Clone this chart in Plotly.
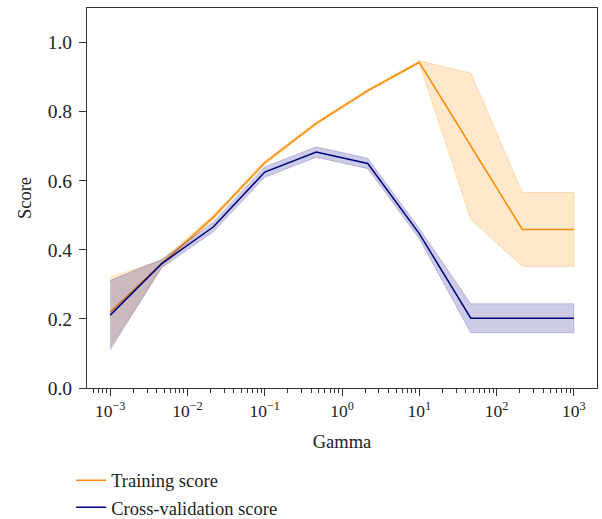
import numpy as np
import plotly.graph_objects as go

gamma = [1e-3, 4.64e-3, 2.154e-2, 1e-1, 4.642e-1, 2.154, 10.0, 46.42, 215.4, 1000.0]
train_mean = [0.22, 0.36, 0.494, 0.652, 0.766, 0.861, 0.943, 0.70, 0.459, 0.459]
train_std = [0.10, 0.010, 0.006, 0.005, 0.004, 0.004, 0.004, 0.212, 0.107, 0.107]
cv_mean = [0.211, 0.36, 0.466, 0.625, 0.683, 0.65, 0.447, 0.202, 0.202, 0.202]
cv_std = [0.10, 0.012, 0.014, 0.015, 0.015, 0.015, 0.015, 0.042, 0.042, 0.042]

tick_vals = [1e-3, 1e-2, 1e-1, 1e0, 1e1, 1e2, 1e3]
tick_text = ["10<sup>−3</sup>", "10<sup>−2</sup>", "10<sup>−1</sup>", "10<sup>0</sup>",
             "10<sup>1</sup>", "10<sup>2</sup>", "10<sup>3</sup>"]
minor_vals = [m * 10.0 ** e for e in range(-4, 4) for m in range(2, 10)]
y_ticks = [0.0, 0.2, 0.4, 0.6, 0.8, 1.0]

orange = "#ff8c00"
navy = "#000080"

def band(mean, std, color_fill, color_line):
    up = [m + s for m, s in zip(mean, std)]
    lo = [m - s for m, s in zip(mean, std)]
    return go.Scatter(x=list(gamma) + list(gamma)[::-1], y=up + lo[::-1],
                      fill="toself", fillcolor=color_fill,
                      line=dict(color=color_line, width=1),
                      mode="lines", showlegend=False, hoverinfo="skip")

fig = go.Figure()
fig.add_trace(band(train_mean, train_std, "rgba(255,140,0,0.2)", "rgba(255,140,0,0.25)"))
fig.add_trace(go.Scatter(x=gamma, y=train_mean, mode="lines", name="Training score",
                         line=dict(color=orange, width=1.5)))
fig.add_trace(band(cv_mean, cv_std, "rgba(0,0,128,0.2)", "rgba(0,0,128,0.2)"))
fig.add_trace(go.Scatter(x=gamma, y=cv_mean, mode="lines", name="Cross-validation score",
                         line=dict(color=navy, width=1.5)))

fam = "Liberation Serif, DejaVu Serif, serif"
font = dict(family=fam, size=18.5, color="#222")

fig.update_layout(
    width=602, height=519,
    margin=dict(l=87, r=5, t=8, b=131, autoexpand=False),
    paper_bgcolor="white", plot_bgcolor="white",
    font=font,
    legend=dict(x=-0.031, y=-0.194, xanchor="left", yanchor="top",
                font=font, tracegroupgap=0, itemwidth=30,
                bgcolor="rgba(0,0,0,0)"),
    xaxis=dict(type="log", range=[-3.3, 3.3], tickvals=tick_vals, ticktext=tick_text,
               tickfont=dict(family=fam, size=17.5, color="#222"),
               showline=True, linecolor="#333", linewidth=1.2, mirror=True,
               ticks="outside", ticklen=7, tickcolor="#333", showgrid=False, zeroline=False,
               automargin=False,
               minor=dict(tickmode="array", tickvals=minor_vals, ticks="outside", ticklen=4,
                          tickcolor="#333", showgrid=False),
               title=dict(text="Gamma", font=font, standoff=14)),
    yaxis=dict(range=[0, 1.1], tickvals=y_ticks, tickformat=".1f",
               tickfont=dict(family=fam, size=19.5, color="#222"),
               showline=True, linecolor="#333", linewidth=1.2, mirror=True,
               ticks="outside", ticklen=7, tickcolor="#333", showgrid=False, zeroline=False,
               automargin=False, ticklabelstandoff=3,
               title=dict(text="Score", font=font, standoff=11)),
)

fig.write_html("out.html")
